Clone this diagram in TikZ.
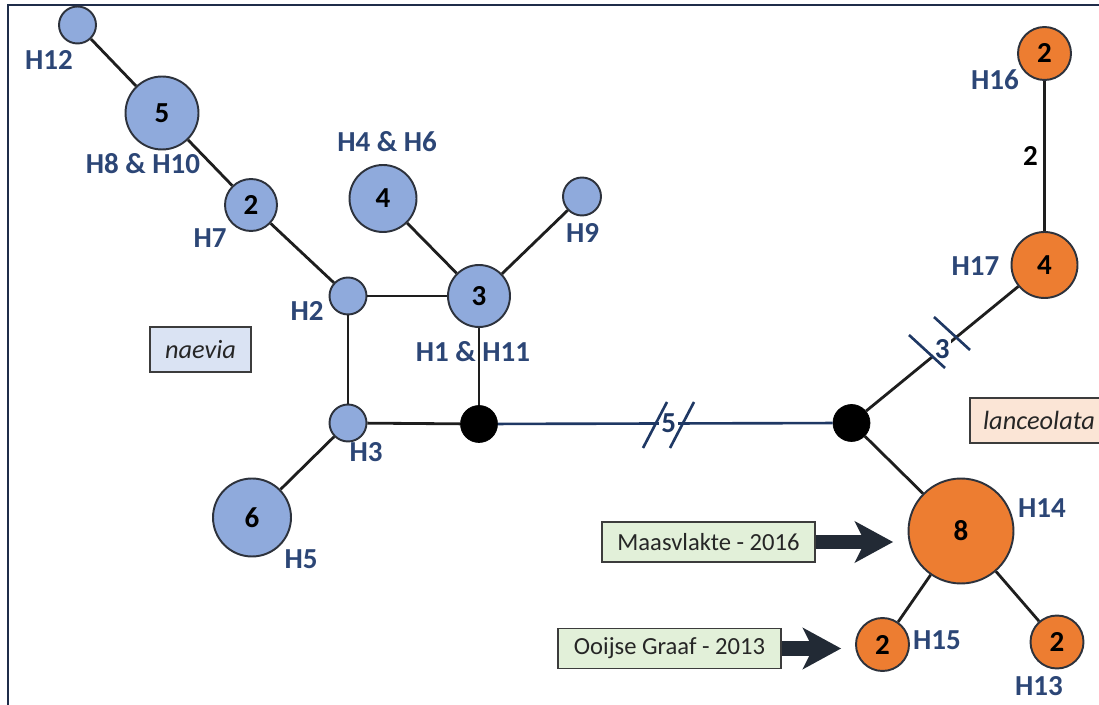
\documentclass[tikz,border=0pt]{standalone}
\usepackage{fontspec}
\setmainfont{Carlito}
\usepackage{tikz}
\usetikzlibrary{calc}
\usetikzlibrary{arrows.meta}

\definecolor{naeblue}{RGB}{143,170,220}
\definecolor{lanorange}{RGB}{237,125,49}
\definecolor{labblue}{RGB}{44,70,118}
\definecolor{edgegray}{RGB}{30,30,30}
\definecolor{circgray}{RGB}{45,50,60}
\definecolor{mvblue}{RGB}{31,56,100}
\definecolor{framecol}{RGB}{31,45,74}
\definecolor{boxgray}{RGB}{60,60,60}
\definecolor{textgray}{RGB}{38,38,38}
\definecolor{naefill}{RGB}{218,227,243}
\definecolor{lanfill}{RGB}{251,229,214}
\definecolor{popgreen}{RGB}{226,240,217}
\definecolor{arrowdark}{RGB}{34,42,53}

\newcommand{\hapfont}{\bfseries\fontsize{16.5}{19}\selectfont}
\newcommand{\boxfont}{\fontsize{14}{16}\selectfont}
\newcommand{\spfont}{\itshape\fontsize{15}{17}\selectfont}

\begin{document}
\begin{tikzpicture}[x=0.02cm, y=-0.02cm,
    hap/.style={circle, draw=circgray, line width=1.1pt, inner sep=0pt, font=\hapfont},
    nae/.style={hap, fill=naeblue},
    lan/.style={hap, fill=lanorange},
    mv/.style={circle, draw=black, fill=black, inner sep=0pt, minimum size=0.74cm},
    hlab/.style={text=labblue, font=\hapfont, inner sep=0pt},
    link/.style={draw=edgegray, line width=1.6pt},
    mvlink/.style={draw=mvblue, line width=1.5pt},
    slash/.style={draw=mvblue, line width=1.5pt},
    slashlab/.style={fill=white, text=mvblue, font=\hapfont, inner sep=1pt},
    spbox/.style={draw=boxgray, line width=1pt, font=\spfont, text=textgray, minimum height=0.9cm},
    popbox/.style={draw=boxgray, line width=1pt, fill=popgreen, font=\boxfont, text=textgray, minimum height=0.8cm},
    bigarrow/.style={draw=arrowdark, line width=8pt, -{Stealth[length=22pt, width=24pt, inset=6pt, line width=0pt]}},
  ]
    \useasboundingbox (0,0) rectangle (1099,705);
    \clip (0,0) rectangle (1099,705);
    % Rahmen
    \draw[framecol, line width=1.4pt] (8,705) -- (8,5) -- (1099,5);
    % Haplotypen naevia
    \node[nae, minimum size=0.74cm] (H12) at (77.5,25) {};
    \node[nae, minimum size=1.46cm] (H8) at (162,113) {5};
    \node[nae, minimum size=1.04cm] (H7) at (251,205) {2};
    \node[nae, minimum size=1.34cm] (H4) at (383,198.5) {4};
    \node[nae, minimum size=0.76cm] (H9) at (582,196.5) {};
    \node[nae, minimum size=0.74cm] (H2) at (348,296) {};
    \node[nae, minimum size=1.24cm] (H1) at (479,296) {3};
    \node[nae, minimum size=0.74cm] (H3) at (348,423) {};
    \node[nae, minimum size=1.56cm] (H5) at (252,517.5) {6};
    % Haplotypen lanceolata
    \node[lan, minimum size=1.06cm] (H16) at (1044.5,53.5) {2};
    \node[lan, minimum size=1.32cm] (H17) at (1044.5,265) {4};
    \node[lan, minimum size=2.1cm] (H14) at (961,531) {8};
    \node[lan, minimum size=1.06cm] (H15) at (882.5,644.5) {2};
    \node[lan, minimum size=1.06cm] (H13) at (1057,642) {2};
    % median vectors
    \node[mv] (mvL) at (479,424) {};
    \node[mv] (mvR) at (851.5,423) {};
    % Kanten
    \draw[link] (H12) -- (H8);
    \draw[link] (H8) -- (H7);
    \draw[link] (H7) -- (H2);
    \draw[link] (H2) -- (H1);
    \draw[link] (H2) -- (H3);
    \draw[link] (H3) -- (mvL);
    \draw[link] (H1) -- (mvL);
    \draw[link] (H1) -- (H4);
    \draw[link] (H1) -- (H9);
    \draw[link] (H3) -- (H5);
    \draw[mvlink] (mvL) -- node[pos=0.51, slashlab] (m5) {5} (mvR);
    \draw[link] (mvR) -- node[pos=0.5, slashlab] (m3) {3} (H17);
    \draw[link] (H16) -- node[left=3pt, text=black, font=\hapfont, inner sep=0pt] (m2) {2} (H17);
    \draw[link] (mvR) -- (H14);
    \draw[link] (H14) -- (H15);
    \draw[link] (H14) -- (H13);
    % Striche
    \draw[slash] (643,448) -- (667,402);
    \draw[slash] (670,448) -- (694,402);
    \draw[slash] (909,335) -- (945,368);
    \draw[slash] (934,317) -- (970,350);
    % Labels
    \node[hlab] (lH12) at (49,60) {H12};
    \node[hlab] (lH8) at (143,164) {H8 \& H10};
    \node[hlab] (lH7) at (210,238) {H7};
    \node[hlab] (lH4) at (387,142) {H4 \& H6};
    \node[hlab] (lH9) at (582.5,232.5) {H9};
    \node[hlab] (lH2) at (307,311) {H2};
    \node[hlab] (lH1) at (473,352) {H1 \& H11};
    \node[hlab] (lH3) at (366,452) {H3};
    \node[hlab] (lH5) at (301,559) {H5};
    \node[hlab] (lH16) at (995,80) {H16};
    \node[hlab] (lH17) at (975.5,266) {H17};
    \node[hlab] (lH14) at (1042,508) {H14};
    \node[hlab] (lH15) at (937,640) {H15};
    \node[hlab] (lH13) at (1039,686) {H13};
    % Arten
    \node[spbox, fill=naefill, minimum width=2.02cm] (naevia) at (200.5,349.5) {naevia};
    \node[spbox, fill=lanfill, minimum width=2.76cm] (lanceolata) at (1039,420.5) {lanceolata};
    % Fundorte
    \node[popbox, minimum width=4.26cm] (maas) at (708.5,542) {Maasvlakte - 2016};
    \node[popbox, minimum width=4.46cm] (ooij) at (669.5,648.5) {Ooijse Graaf - 2013};
    \coordinate (maastip) at (893,542);
    \coordinate (ooijtip) at (841,648.5);
    \draw[bigarrow] (maas) -- (maastip);
    \draw[bigarrow] (ooij) -- (ooijtip);
\end{tikzpicture}
\end{document}
